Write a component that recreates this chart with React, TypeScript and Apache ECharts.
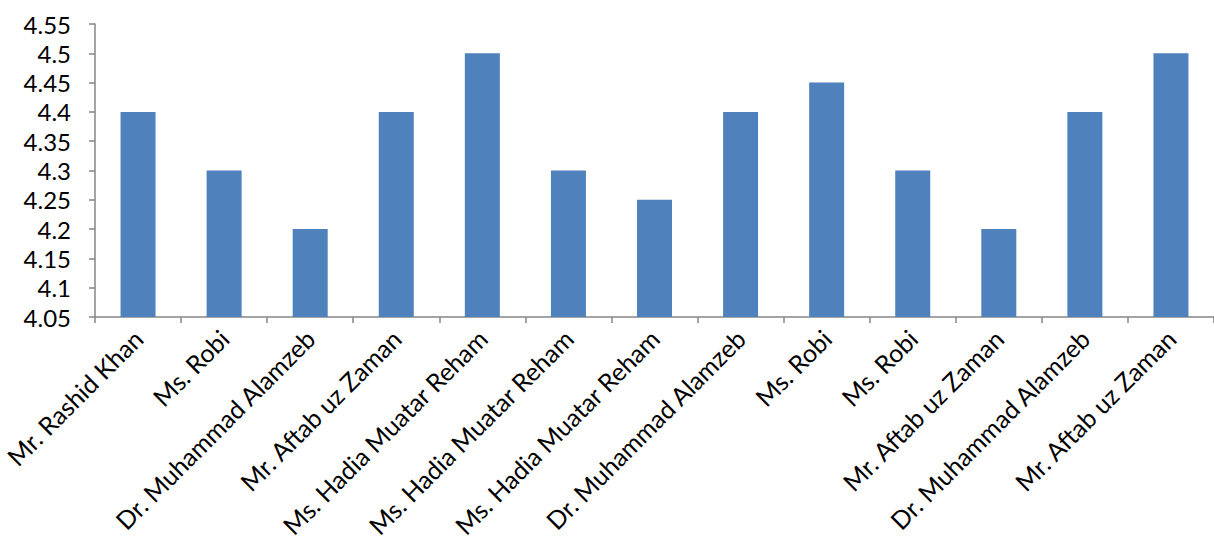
import React, { useEffect, useRef } from "react";
import * as echarts from "echarts";

const categories = [
  "Mr. Rashid Khan",
  "Ms. Robi",
  "Dr. Muhammad Alamzeb",
  "Mr. Aftab uz Zaman",
  "Ms. Hadia Muatar Reham",
  "Ms. Hadia Muatar Reham",
  "Ms. Hadia Muatar Reham",
  "Dr. Muhammad Alamzeb",
  "Ms. Robi",
  "Ms. Robi",
  "Mr. Aftab uz Zaman",
  "Dr. Muhammad Alamzeb",
  "Mr. Aftab uz Zaman",
];
const values = [4.4, 4.3, 4.2, 4.4, 4.5, 4.3, 4.25, 4.4, 4.45, 4.3, 4.2, 4.4, 4.5];
const yMin = 4.05;
const yMax = 4.55;
const yStep = 0.05;

export default function App() {
  const ref = useRef<HTMLDivElement>(null);
  useEffect(() => {
    if (!ref.current) return;
    const chart = echarts.init(ref.current, undefined, { renderer: "svg" });
    const font = "Lato, 'Open Sans', sans-serif";
    chart.setOption({
      animation: false,
      backgroundColor: "#ffffff",
      grid: { left: 95, top: 24, width: 1127, height: 293, containLabel: false },
      xAxis: {
        type: "category",
        data: categories,
        boundaryGap: true,
        axisLine: { show: true, lineStyle: { color: "#868686", width: 1.5 } },
        axisTick: { show: true, alignWithLabel: false, length: 6, lineStyle: { color: "#868686", width: 1.5 } },
        axisLabel: {
          interval: 0,
          rotate: 45,
          margin: 17,
          color: "#000000",
          fontSize: 25,
          fontFamily: font,
        },
        splitLine: { show: false },
      },
      yAxis: {
        type: "value",
        min: yMin,
        max: yMax,
        interval: yStep,
        axisLine: { show: true, lineStyle: { color: "#868686", width: 1.5 } },
        axisTick: { show: true, length: 6, lineStyle: { color: "#868686", width: 1.5 } },
        splitLine: { show: false },
        axisLabel: {
          margin: 24,
          color: "#000000",
          fontSize: 24,
          fontFamily: font,
          formatter: (v: number) => String(parseFloat(v.toFixed(2))),
        },
      },
      series: [
        {
          type: "bar",
          data: values,
          barWidth: 35,
          itemStyle: { color: "#4F81BD" },
        },
      ],
    });
    return () => chart.dispose();
  }, []);
  return (
    <div
      ref={ref}
      style={{ position: "fixed", left: 0, top: 0, width: 1214, height: 546 }}
    />
  );
}
